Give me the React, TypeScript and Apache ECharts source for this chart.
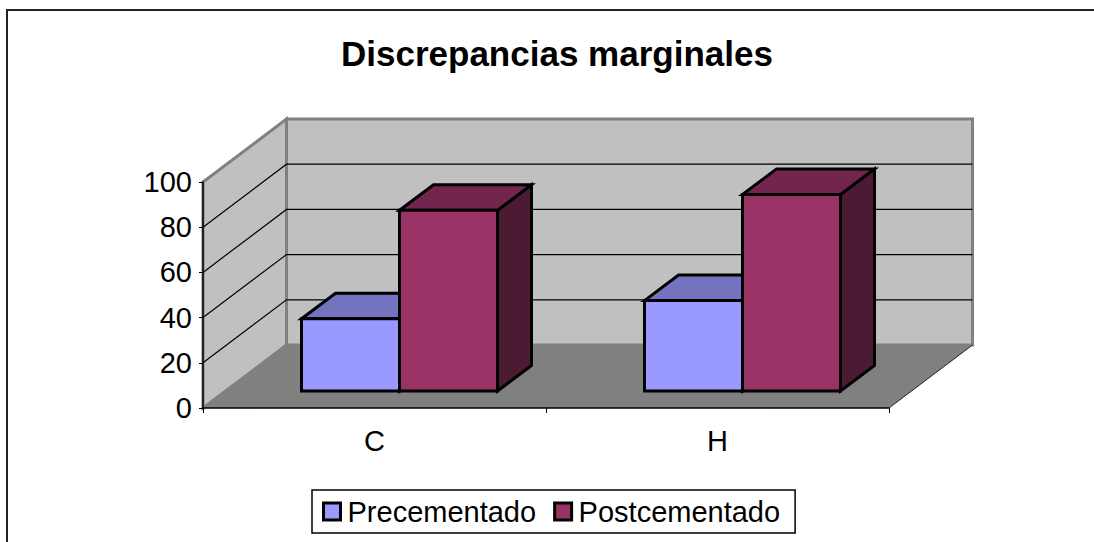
import React, { useEffect, useRef } from "react";
import * as echarts from "echarts";

const titleText = "Discrepancias marginales";
const categories = ["C", "H"];
const precementado = [32, 40];
const postcementado = [80, 87];
const wallTicks = [20, 40, 60, 80];

const FONT = '"Liberation Sans", Arial, sans-serif';
const WALL_DX = 83.5;
const WALL_DY = 63;
const BAR_SHIFT_X = 25;
const BAR_SHIFT_Y = 17;
const BAR_DX = 34;
const BAR_DY = 25.5;
const BAR_RATIO = 98 / 343;

function wallsItem(params: any, api: any) {
  const c = params.coordSys;
  const l = c.x, r = c.x + c.width, t = c.y, b = c.y + c.height;
  const bl = [l + WALL_DX, b - WALL_DY];
  const tl = [l + WALL_DX, t - WALL_DY];
  const br = [r + WALL_DX, b - WALL_DY];
  const tr = [r + WALL_DX, t - WALL_DY];
  const edge = { stroke: "#808080", lineWidth: 3, lineJoin: "miter" };
  return {
    type: "group",
    children: [
      { type: "polygon", shape: { points: [[l, b], bl, br, [r, b]] }, style: { fill: "#808080", stroke: "none" } },
      { type: "polygon", shape: { points: [bl, tl, tr, br] }, style: { fill: "#C0C0C0", ...edge } },
      { type: "polygon", shape: { points: [[l, b], [l, t], tl, bl] }, style: { fill: "#C0C0C0", ...edge } },
      { type: "line", shape: { x1: r, y1: b, x2: br[0], y2: br[1] }, style: { stroke: "#222", lineWidth: 1 } },
    ],
  };
}

function gridItem(params: any, api: any) {
  const c = params.coordSys;
  const y = api.coord([0, api.value(1)])[1];
  const l = c.x, r = c.x + c.width;
  return {
    type: "polyline",
    shape: { points: [[l, y], [l + WALL_DX, y - WALL_DY], [r + WALL_DX, y - WALL_DY]] },
    style: { fill: "none", stroke: "#000", lineWidth: 1.2 },
  };
}

function barRenderer(side: number, front: string, top: string, flank: string) {
  return (params: any, api: any) => {
    const p = api.coord([api.value(0), api.value(1)]);
    const o = api.coord([api.value(0), 0]);
    const w = api.size([1, 0])[0] * BAR_RATIO;
    const x0 = p[0] + BAR_SHIFT_X + (side < 0 ? -w : 0);
    const x1 = x0 + w;
    const yT = p[1] - BAR_SHIFT_Y;
    const yB = o[1] - BAR_SHIFT_Y;
    const line = { stroke: "#000", lineWidth: 3, lineJoin: "miter" };
    return {
      type: "group",
      children: [
        { type: "polygon", shape: { points: [[x1, yT], [x1 + BAR_DX, yT - BAR_DY], [x1 + BAR_DX, yB - BAR_DY], [x1, yB]] }, style: { fill: flank, ...line } },
        { type: "polygon", shape: { points: [[x0, yT], [x0 + BAR_DX, yT - BAR_DY], [x1 + BAR_DX, yT - BAR_DY], [x1, yT]] }, style: { fill: top, ...line } },
        { type: "polygon", shape: { points: [[x0, yT], [x1, yT], [x1, yB], [x0, yB]] }, style: { fill: front, ...line } },
      ],
    };
  };
}

export default function App() {
  const ref = useRef<HTMLDivElement>(null);
  useEffect(() => {
    const chart = echarts.init(ref.current!, null, { renderer: "svg" });
    chart.setOption({
      animation: false,
      backgroundColor: "#fff",
      textStyle: { fontFamily: FONT },
      title: {
        text: titleText,
        left: 341,
        top: 36,
        padding: 0,
        textStyle: { fontFamily: FONT, fontSize: 35, fontWeight: "bold", color: "#000" },
      },
      grid: { left: 203, right: 205, top: 182, bottom: 134, containLabel: false },
      xAxis: {
        type: "category",
        data: categories,
        z: 5,
        axisLine: { lineStyle: { color: "#000", width: 1.5 } },
        axisTick: { show: true, length: 5, lineStyle: { color: "#000", width: 1 } },
        axisLabel: { color: "#000", fontFamily: FONT, fontSize: 29, margin: 18 },
        splitLine: { show: false },
      },
      yAxis: {
        type: "value",
        min: 0,
        max: 100,
        interval: 20,
        z: 5,
        axisLine: { show: true, lineStyle: { color: "#000", width: 1.5 } },
        axisTick: { show: true, length: 4, lineStyle: { color: "#000", width: 1 } },
        axisLabel: { color: "#000", fontFamily: FONT, fontSize: 29, margin: 11 },
        splitLine: { show: false },
      },
      legend: {
        data: [
          { name: "Precementado", icon: "rect" },
          { name: "Postcementado", icon: "rect" },
        ],
        left: 312,
        top: 490,
        padding: [7, 15, 7, 10],
        itemGap: 17,
        itemWidth: 17,
        itemHeight: 17,
        backgroundColor: "#fff",
        borderColor: "#000",
        borderWidth: 1.5,
        itemStyle: { borderColor: "#000", borderWidth: 3 },
        textStyle: { fontFamily: FONT, fontSize: 29, color: "#000", padding: [0, 0, 0, 2] },
        selectedMode: false,
      },
      series: [
        { type: "custom", name: "walls", silent: true, z: 1, data: [[0, 0]], renderItem: wallsItem },
        { type: "custom", name: "grid", silent: true, z: 1, data: wallTicks.map((v) => [0, v]), renderItem: gridItem },
        {
          type: "custom",
          name: "Precementado",
          silent: true,
          z: 2,
          itemStyle: { color: "#9999FF" },
          data: precementado.map((v, i) => [i, v]),
          renderItem: barRenderer(-1, "#9999FF", "#7373BF", "#4D4D80"),
        },
        {
          type: "custom",
          name: "Postcementado",
          silent: true,
          z: 3,
          itemStyle: { color: "#993366" },
          data: postcementado.map((v, i) => [i, v]),
          renderItem: barRenderer(1, "#993366", "#73264D", "#4D1A33"),
        },
      ],
      graphic: [
        {
          type: "polyline",
          silent: true,
          shape: { points: [[7, 542], [7, 10], [1094, 10]] },
          style: { fill: "none", stroke: "#222", lineWidth: 2 },
        },
      ],
    });
    return () => chart.dispose();
  }, []);
  return <div ref={ref} style={{ position: "absolute", left: 0, top: 0, width: 1094, height: 542 }} />;
}
